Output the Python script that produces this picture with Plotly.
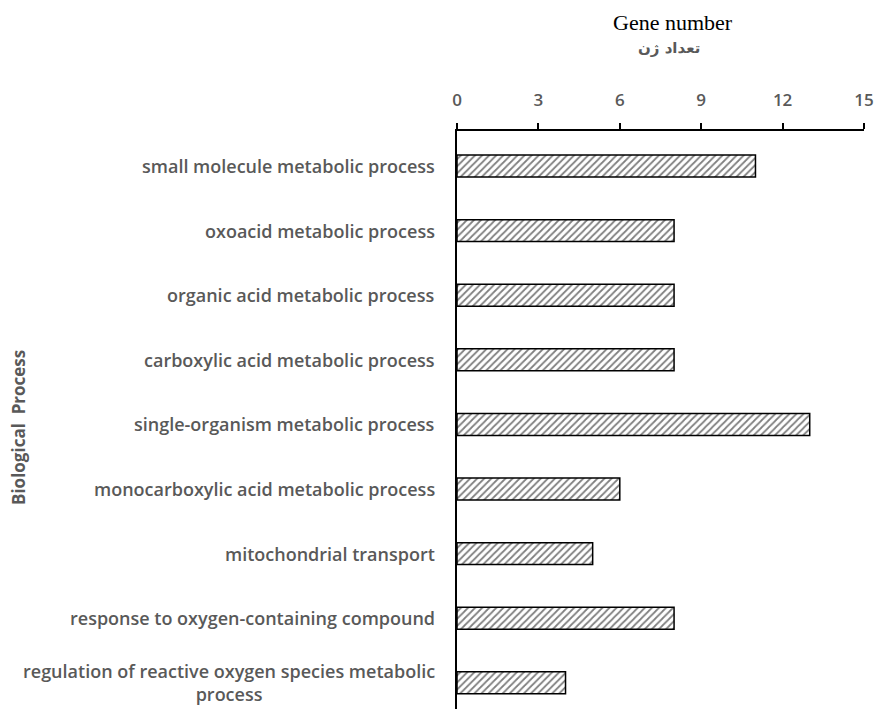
import plotly.graph_objects as go

categories = [
    "small molecule metabolic process",
    "oxoacid metabolic process",
    "organic acid metabolic process",
    "carboxylic acid metabolic process",
    "single-organism metabolic process",
    "monocarboxylic acid metabolic process",
    "mitochondrial transport",
    "response to oxygen-containing compound",
    "regulation of reactive oxygen species metabolic<br>process",
]
gene_counts = [11, 8, 8, 8, 13, 6, 5, 8, 4]
tick_vals = [0, 3, 6, 9, 12, 15]

positions = list(range(len(categories)))

sans = "Open Sans, Liberation Sans, sans-serif"
label_font = dict(family=sans, size=18, color="#595959", weight=600)

fig = go.Figure()
fig.add_trace(go.Bar(
    x=gene_counts,
    y=positions,
    orientation="h",
    width=0.34,
    marker=dict(
        color="white",
        line=dict(color="black", width=1.5),
        pattern=dict(shape="/", fgcolor="black", bgcolor="white", size=5, solidity=0.35),
    ),
    showlegend=False,
    hoverinfo="x",
))

for p, c in zip(positions, categories):
    fig.add_annotation(
        x=0, xref="paper", xshift=-20,
        y=p, yref="y",
        text=c, showarrow=False,
        xanchor="right", align="center",
        font=label_font,
    )

fig.add_annotation(
    x=0, xref="paper", xshift=-439, xanchor="center",
    y=0.5, yref="paper", yshift=-8, yanchor="middle",
    text="<b>Biological  Process</b>", textangle=-90, showarrow=False,
    font=dict(family=sans, size=17, color="#595959"),
)

fig.add_annotation(
    x=0.5, xref="paper", xshift=12, xanchor="center",
    y=1, yref="paper", yshift=109, yanchor="middle",
    text="Gene number", showarrow=False,
    font=dict(family="Liberation Serif, serif", size=22, color="black"),
)
fig.add_annotation(
    x=0.5, xref="paper", xshift=8, xanchor="center",
    y=1, yref="paper", yshift=83, yanchor="middle",
    text="تعداد ژن", showarrow=False,
    font=dict(family="DejaVu Sans, Noto Sans, sans-serif", size=15, color="#595959", weight=600),
)

fig.update_layout(
    width=875, height=709,
    margin=dict(l=457, r=11, t=131, b=0, autoexpand=False),
    paper_bgcolor="white", plot_bgcolor="white",
    xaxis=dict(
        side="top", range=[0, 15], tickvals=tick_vals,
        showgrid=False, zeroline=False,
        showline=True, linecolor="black", linewidth=1.5,
        ticks="outside", ticklen=6, tickcolor="black", tickwidth=1.5,
        tickfont=dict(family=sans, size=17, color="#595959", weight=600),
        ticklabelstandoff=10,
        ticklabeloverflow="allow",
    ),
    yaxis=dict(
        range=[8.405, -0.542], showticklabels=False,
        showgrid=False, zeroline=False,
        showline=True, linecolor="black", linewidth=1.5,
        ticks="",
    ),
)

fig.write_html(
    "out.html",
    config={"displayModeBar": False},
    post_script="document.body.style.margin='0';document.body.style.overflow='hidden';",
)
